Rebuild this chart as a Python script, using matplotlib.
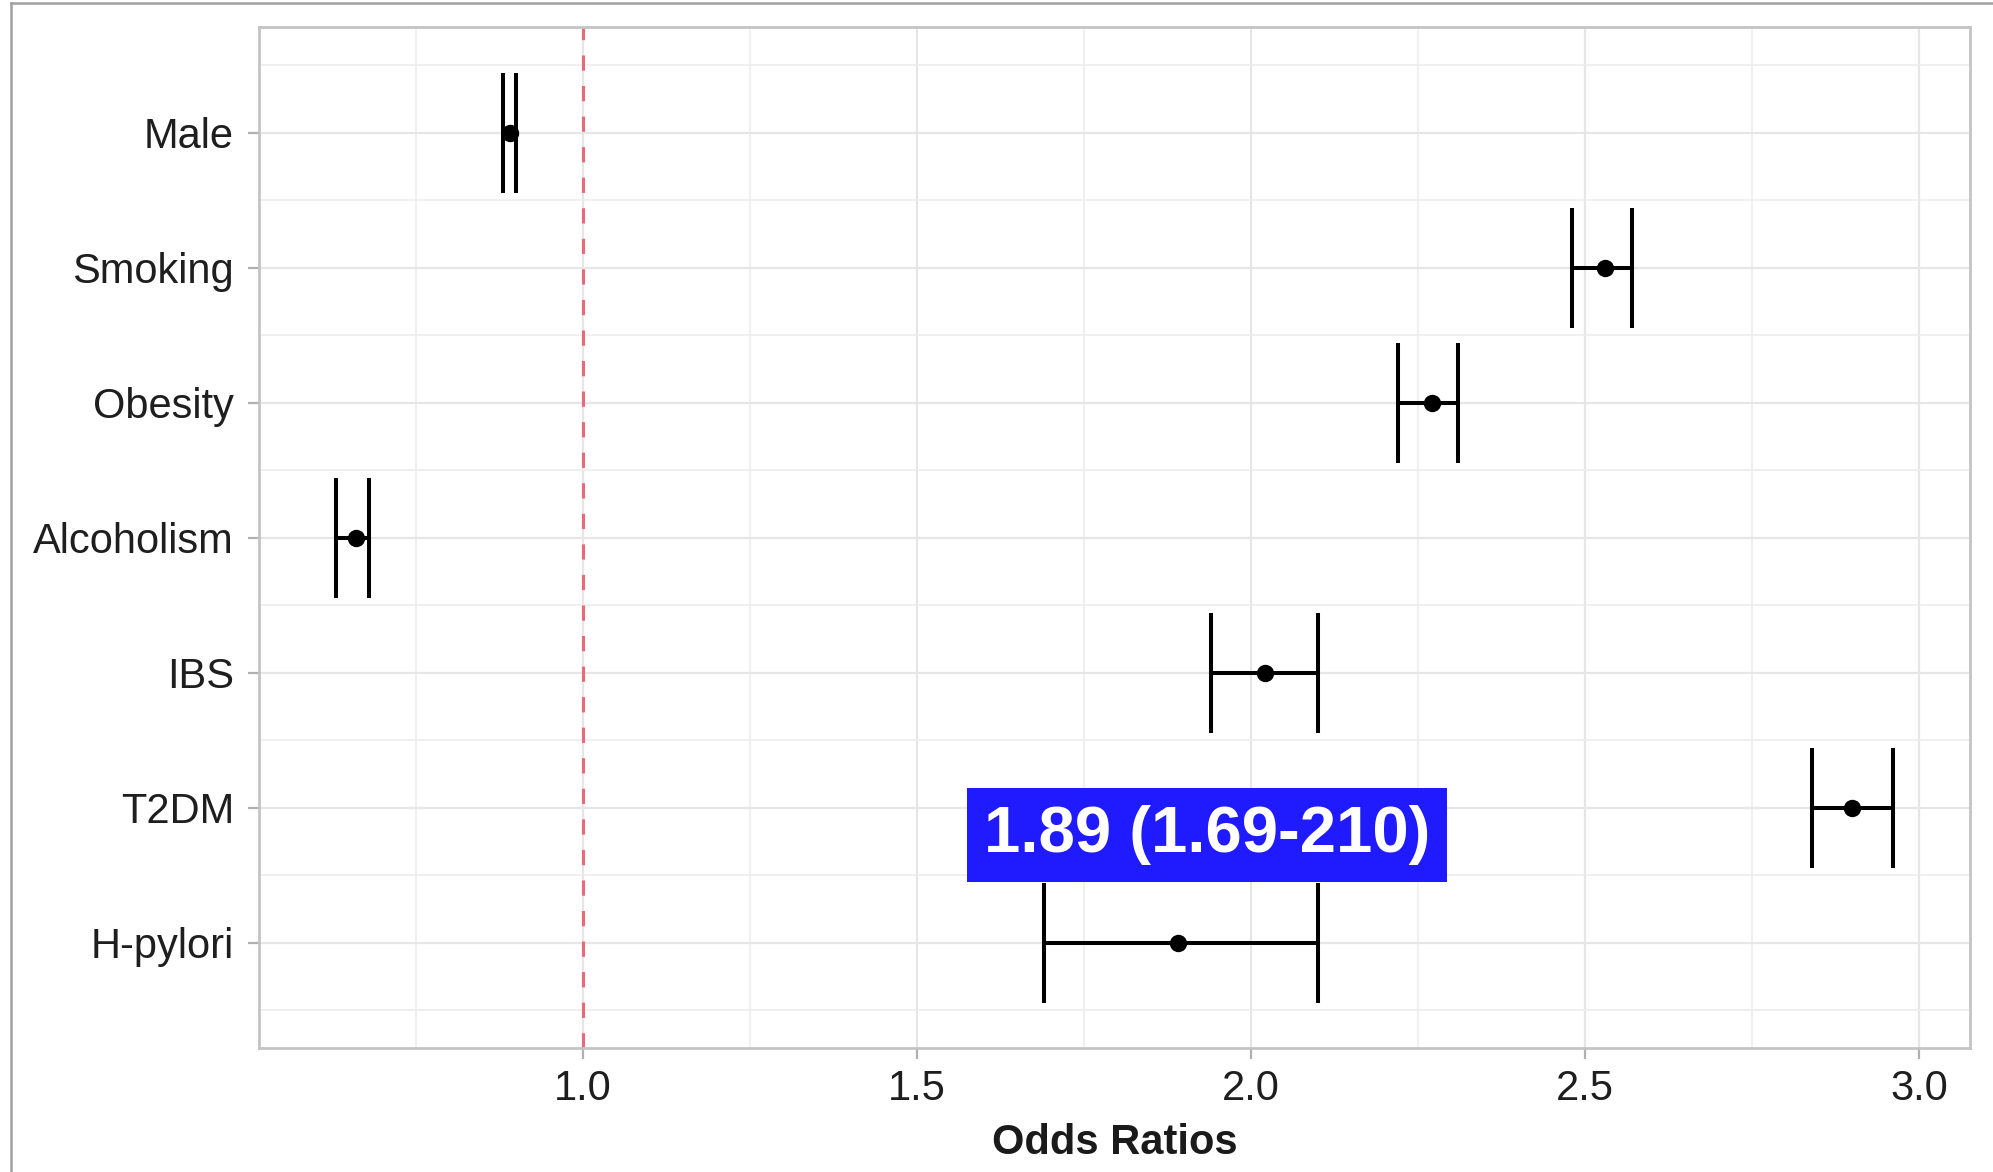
import matplotlib
matplotlib.use("Agg")
import matplotlib.pyplot as plt
from matplotlib.lines import Line2D
import numpy as np

plt.rcParams["font.family"] = ["Liberation Sans", "DejaVu Sans"]

# risk factors, bottom row first
factors = ["H-pylori", "T2DM", "IBS", "Alcoholism", "Obesity", "Smoking", "Male"]
odds = [1.89, 2.90, 2.02, 0.66, 2.27, 2.53, 0.89]
ci_low = [1.69, 2.84, 1.94, 0.63, 2.22, 2.48, 0.88]
ci_high = [2.10, 2.96, 2.10, 0.68, 2.31, 2.57, 0.90]
highlight_text = "1.89 (1.69-210)"

fig = plt.figure(figsize=(19.93, 11.72), dpi=100)
ax = fig.add_axes([0.130, 0.1058, 0.8585, 0.8712])

y = np.arange(1, len(factors) + 1)
odds = np.array(odds)
err = [odds - np.array(ci_low), np.array(ci_high) - odds]

# grid like ggplot's theme_light
ax.set_xticks([0.75, 1.25, 1.75, 2.25, 2.75], minor=True)
ax.set_yticks(np.arange(0.5, len(factors) + 1, 1.0), minor=True)
ax.grid(True, which="major", color="#e6e6e6", linewidth=1.6)
ax.grid(True, which="minor", color="#ededed", linewidth=1.2)
ax.set_axisbelow(True)

ax.axvline(1.0, color="#e8697a", linestyle=(0, (5, 5)), linewidth=2.2, zorder=2)

ax.errorbar(odds, y, xerr=err, fmt="o", color="black", ecolor="black",
            elinewidth=2.9, capsize=43.5, capthick=2.9, markersize=11.5, zorder=3)

ax.text(1.934, 1.80, highlight_text, ha="center", va="center",
        fontsize=47, fontweight="bold", color="white", zorder=5,
        bbox=dict(boxstyle="square,pad=0.26", facecolor="#1f1aff", edgecolor="none"))

ax.set_xlim(0.515, 3.076)
ax.set_ylim(0.222, 7.785)
ax.set_xticks([1.0, 1.5, 2.0, 2.5, 3.0])
ax.set_xticklabels(["1.0", "1.5", "2.0", "2.5", "3.0"])
ax.set_yticks(y)
ax.set_yticklabels(factors)
ax.tick_params(axis="both", which="major", length=8, width=1.6, color="#b0b0b0",
               labelsize=30, labelcolor="#1e1e1e")
ax.tick_params(axis="y", pad=10)
ax.tick_params(axis="x", pad=7)
ax.tick_params(which="minor", length=0)

for s in ax.spines.values():
    s.set_color("#c4c4c4")
    s.set_linewidth(2.0)

ax.set_xlabel("Odds Ratios", fontsize=30, fontweight="bold", color="#1a1a1a", labelpad=10)

# thin frame around the figure on the top and left
fig.add_artist(Line2D([11 / 1993, 11 / 1993], [0, 1 - 3 / 1172],
                      transform=fig.transFigure, color="#a0a0a0", linewidth=1.8))
fig.add_artist(Line2D([11 / 1993, 1], [1 - 3 / 1172, 1 - 3 / 1172],
                      transform=fig.transFigure, color="#a0a0a0", linewidth=1.8))

fig.savefig("out.png", dpi=100)
